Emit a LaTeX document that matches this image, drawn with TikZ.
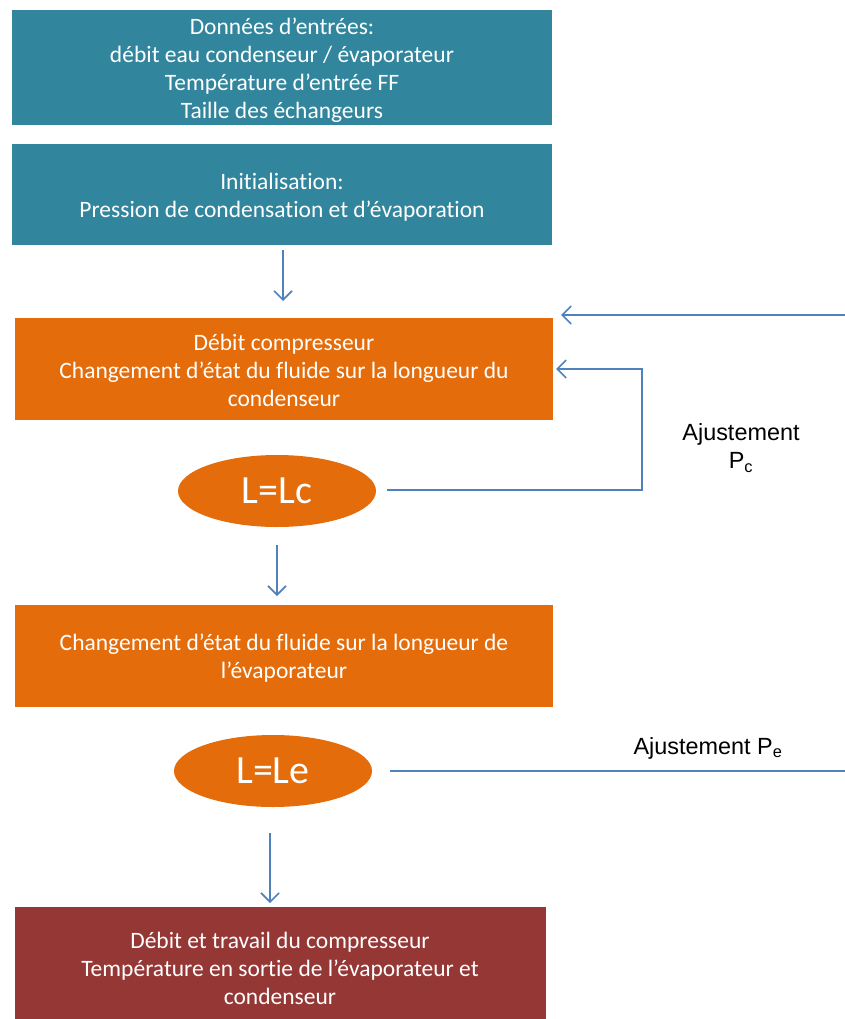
\documentclass[tikz,border=0pt]{standalone}
\usepackage{fontspec}
\setmainfont{Carlito}[Ligatures=NoCommon]
\newfontfamily\arialfont{Liberation Sans}
\usetikzlibrary{arrows.meta,shapes.geometric}
\definecolor{tealbox}{HTML}{31859C}
\definecolor{orangebox}{HTML}{E46C0A}
\definecolor{redbox}{HTML}{953735}
\definecolor{linkblue}{HTML}{4F81BD}
\tikzset{
  box/.style={rectangle, inner sep=0pt, text=white, align=center,
    font=\fontsize{23.5}{28}\selectfont},
  ell/.style={ellipse, fill=orangebox, text=white, inner sep=0pt,
    minimum width=198pt, minimum height=72pt, font=\fontsize{40}{44}\selectfont},
  link/.style={draw=linkblue, line width=1.6pt, -{Straight Barb[length=9pt,width=18pt,line width=1.6pt]}},
  plain/.style={draw=linkblue, line width=1.6pt},
  lab/.style={font=\arialfont\fontsize{23.4}{28}\selectfont, text=black, align=center}
}
\begin{document}
\begin{tikzpicture}[x=1pt,y=-1pt]
\useasboundingbox (0,0) rectangle (845,1019);
% boxes
\fill[tealbox] (12,10) rectangle (552,125);
\node[box] (b1) at (282,70) {Données d’entrées:\\débit eau condenseur / évaporateur\\Température d’entrée FF\\Taille des échangeurs};
\fill[tealbox] (12,144) rectangle (552,245);
\node[box] (b2) at (282,197) {Initialisation:\\Pression de condensation et d’évaporation};
\fill[orangebox] (15,318) rectangle (553,420);
\node[box] (b3) at (284,370) {Débit compresseur\\Changement d’état du fluide sur la longueur du\\condenseur};
\fill[orangebox] (15,605) rectangle (553,707);
\node[box] (b4) at (284,658) {Changement d’état du fluide sur la longueur de\\l’évaporateur};
\fill[redbox] (15,907) rectangle (546,1019);
\node[box] (b5) at (280,968) {Débit et travail du compresseur\\Température en sortie de l’évaporateur et\\condenseur};
% ellipses
\node[ell] (e1) at (277,491) {L=Lc};
\node[ell] (e2) at (273,771) {L=Le};
% coordinates
\coordinate (a1s) at (283,250);
\coordinate (a1e) at (283,301);
\coordinate (a2s) at (277,545);
\coordinate (a2e) at (277,596);
\coordinate (a3s) at (270,833);
\coordinate (a3e) at (270,903);
\coordinate (topin) at (845,315);
\coordinate (topend) at (561,315);
\coordinate (fbs) at (387,490);
\coordinate (fbc) at (642,490);
\coordinate (fbt) at (642,369);
\coordinate (fbe) at (556,369);
\coordinate (les) at (390,771);
\coordinate (lee) at (845,771);
% connectors
\draw[link] (a1s) -- (a1e);
\draw[link] (a2s) -- (a2e);
\draw[link] (a3s) -- (a3e);
\draw[link] (topin) -- (topend);
\draw[link] (fbs) -- (fbc) -- (fbt) -- (fbe);
\draw[plain] (les) -- (lee);
% labels
\node[lab] (lc) at (741,448) {Ajustement\\P\textsubscript{c}};
\node[lab] (le) at (708,748) {Ajustement P\textsubscript{e}};
\end{tikzpicture}
\end{document}
